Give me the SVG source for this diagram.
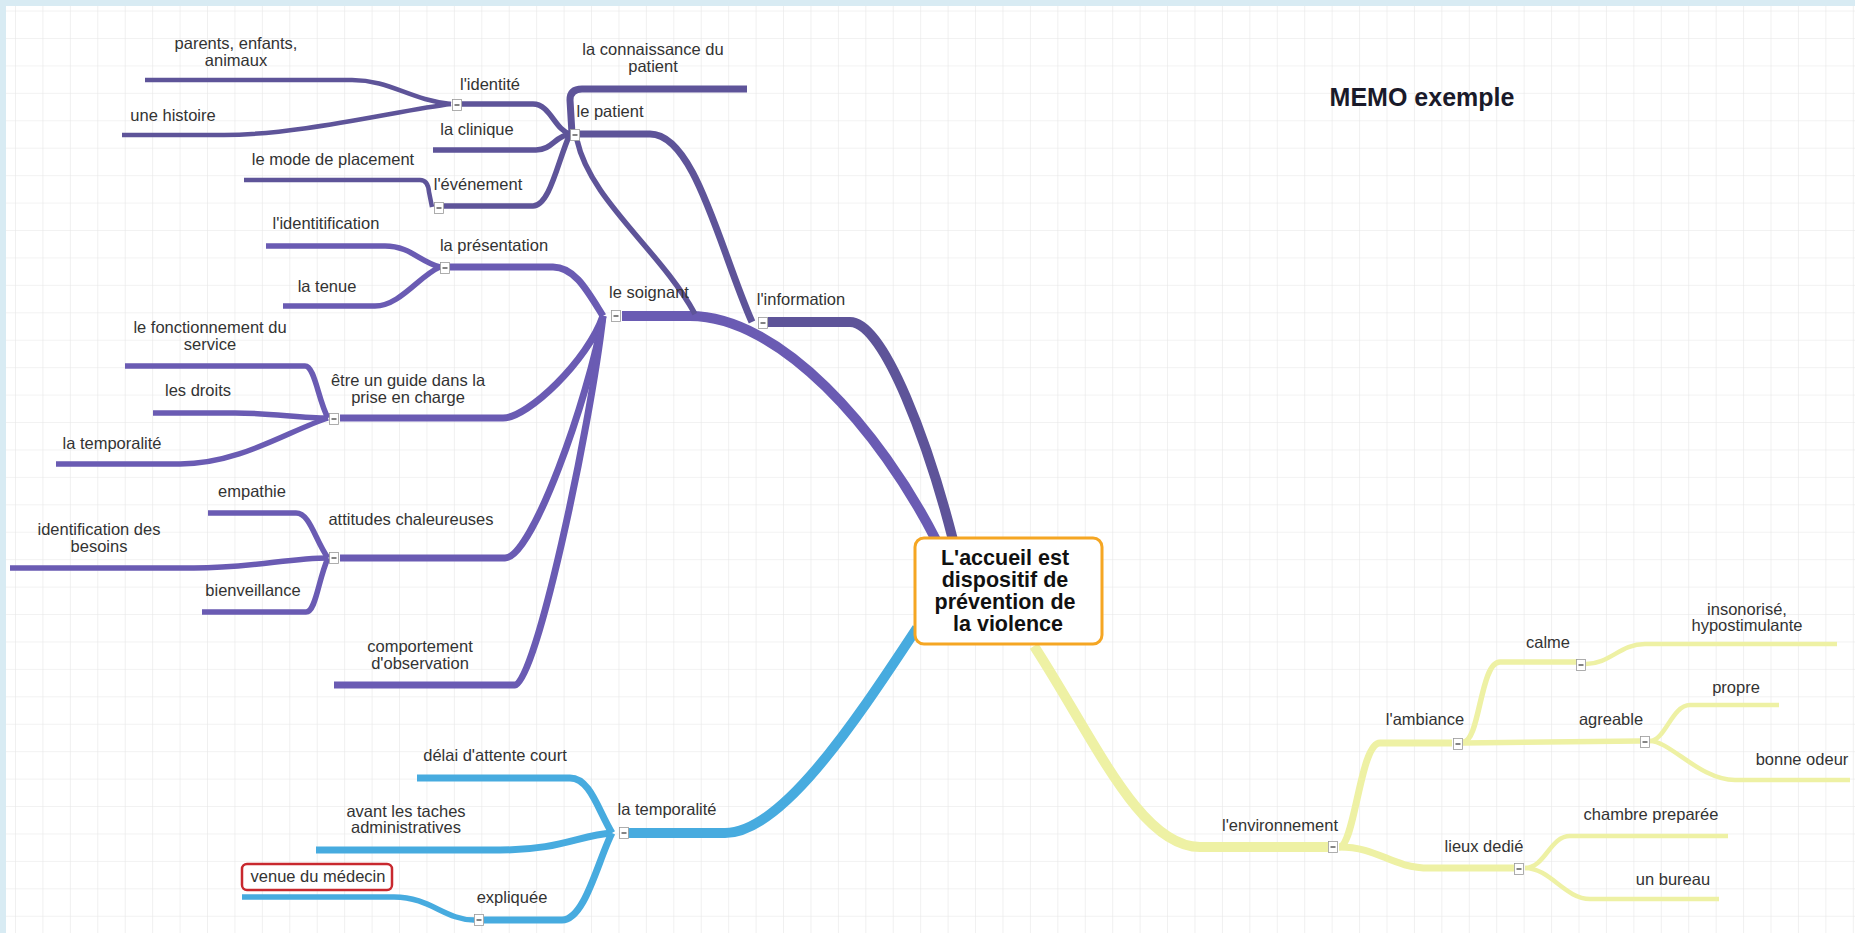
<svg xmlns="http://www.w3.org/2000/svg" width="1855" height="933" viewBox="0 0 1855 933">
<defs>
<pattern id="grid" x="15" y="38" width="27.43" height="27.43" patternUnits="userSpaceOnUse">
<path d="M0 0 V27.43 M0 0 H27.43" fill="none" stroke="#e6e6e6" stroke-width="1.2"/>
</pattern>
<style>
.c{fill:none;stroke-linecap:butt;stroke-linejoin:round}
.w1{stroke-width:10}.w2{stroke-width:7}.w3{stroke-width:5.5}.w4{stroke-width:4.5}
.pu{stroke:#6a5bb3}.dp{stroke:#5e5499}.bl{stroke:#47abdf}.ye{stroke:#eef1a4}
.t{font-family:"Liberation Sans",Arial,sans-serif;font-size:16.5px;fill:#333;text-anchor:middle}
.tg rect{fill:#fff;stroke:#9a9a9a;stroke-width:0.8}
.tg path{stroke:#333;stroke-width:1.2}
</style>
</defs>
<rect width="1855" height="933" fill="#d8ebf3"/>
<rect x="6" y="6" width="1849" height="927" fill="#ffffff"/>
<rect x="6" y="6" width="1849" height="927" fill="url(#grid)"/>

<g id="connectors">
<!-- purple: soignant branch -->
<path class="c w1 pu" d="M622 316 L690 316 C780 316 880 430 936 540"/>
<path class="c w2 pu" d="M450 267 L553 267 C575 267 588 292 603 316"/>
<path class="c w2 pu" d="M340 418 L503 418 C528 418 588 360 603 316"/>
<path class="c w2 pu" d="M340 558 L505 558 C532 558 588 400 603 316"/>
<path class="c w2 pu" d="M334 685 L515 685 C535 685 590 430 603 316"/>
<path class="c w3 pu" d="M266 246 L385 246 C410 246 420 262 440 267"/>
<path class="c w3 pu" d="M283 306 L375 306 C400 306 420 275 440 267"/>
<path class="c w3 pu" d="M125 366 L305 366 C315 366 318 400 328 418"/>
<path class="c w3 pu" d="M153 413 L235 413 C270 413 300 418 328 418"/>
<path class="c w3 pu" d="M56 464 L180 464 C240 464 290 430 328 418"/>
<path class="c w3 pu" d="M208 513 L296 513 C310 513 315 540 328 558"/>
<path class="c w3 pu" d="M10 568 L194 568 C250 568 290 558 328 558"/>
<path class="c w3 pu" d="M202 612 L306 612 C316 612 318 580 328 558"/>
<!-- dark purple: information branch -->
<path class="c w1 dp" d="M768 322 L850 322 C885 322 930 450 953 540"/>
<path class="c w2 dp" d="M580 134 L650 134 C695 134 720 250 752 322"/>
<path class="c w3 dp" d="M577 140 C590 200 660 250 695 314"/>
<path class="c w2 dp" d="M572 134 L570 100 Q570 89 582 89 L747 89"/>
<path class="c w3 dp" d="M462 104 L533 104 C550 104 555 130 570 134"/>
<path class="c w3 dp" d="M433 150 L536 150 C552 150 555 136 570 134"/>
<path class="c w3 dp" d="M444 206 L533 206 C550 206 558 160 570 134"/>
<path class="c w4 dp" d="M145 80 L352 80 C390 80 410 100 451 104"/>
<path class="c w4 dp" d="M122 135 L224 135 C300 135 400 110 451 104"/>
<path class="c w4 dp" d="M244 180 L420 180 Q428 180 429 192 L432 207"/>
<!-- blue: temporalite branch -->
<path class="c w1 bl" d="M628 833 L725 833 C780 833 850 730 917 628"/>
<path class="c w2 bl" d="M417 778 L570 778 C590 778 598 810 612 833"/>
<path class="c w2 bl" d="M316 850 L500 850 C560 850 580 835 612 833"/>
<path class="c w2 bl" d="M484 920 L562 920 C585 920 598 860 612 833"/>
<path class="c w3 bl" d="M242 897 L394 897 C430 897 445 920 474 920"/>
<!-- yellow: environnement branch -->
<path class="c w1 ye" d="M1328 847 L1200 847 C1140 847 1095 740 1034 646"/>
<path class="c w2 ye" d="M1339 847 C1355 847 1360 743 1380 743 L1452 743"/>
<path class="c w2 ye" d="M1339 847 C1380 847 1390 868 1430 868 L1514 868"/>
<path class="c w3 ye" d="M1463 742 C1480 742 1480 662 1500 662 L1578 662"/>
<path class="c w3 ye" d="M1463 743 L1640 741"/>
<path class="c w4 ye" d="M1650 741 C1665 741 1672 705 1690 705 L1779 705"/>
<path class="c w4 ye" d="M1650 741 C1670 741 1700 780 1735 780 L1850 780"/>
<path class="c w4 ye" d="M1586 664 C1610 664 1620 644 1645 644 L1837 644"/>
<path class="c w4 ye" d="M1525 868 C1545 868 1550 836 1570 836 L1728 836"/>
<path class="c w4 ye" d="M1525 868 C1550 868 1565 899 1590 899 L1719 899"/>
</g>

<g id="node-center">
<rect x="915" y="538" width="187" height="106" rx="9" fill="#fff" stroke="#f5a623" stroke-width="3"/>
<text font-family="Liberation Sans,Arial,sans-serif" font-weight="bold" font-size="21.5" fill="#111" text-anchor="middle">
<tspan x="1008" y="565">L'accueil est</tspan>
<tspan x="1008" y="587">dispositif de</tspan>
<tspan x="1008" y="609">prévention de</tspan>
<tspan x="1008" y="631">la violence</tspan>
</text>
</g>

<g id="node-memo"><text x="1422" y="106" font-family="Liberation Sans,Arial,sans-serif" font-weight="bold" font-size="25" fill="#1a1a2a" text-anchor="middle">MEMO exemple</text></g>

<g id="node-soignant"><text class="t" x="649" y="298">le soignant</text><g class="tg"><rect x="611.5" y="310.5" width="9" height="11"/><path d="M613.5 316 H618.5"/></g></g>
<g id="node-information"><text class="t" x="801" y="305">l'information</text><g class="tg"><rect x="758.5" y="317.5" width="9" height="11"/><path d="M760.5 323 H765.5"/></g></g>
<g id="node-patient"><text class="t" x="610" y="117">le patient</text><g class="tg"><rect x="570.5" y="129.5" width="9" height="11"/><path d="M572.5 135 H577.5"/></g></g>
<g id="node-connaissance"><text class="t" x="653"><tspan x="653" y="55">la connaissance du</tspan><tspan x="653" y="72">patient</tspan></text></g>
<g id="node-identite"><text class="t" x="490" y="90">l'identité</text><g class="tg"><rect x="452.5" y="99.5" width="9" height="11"/><path d="M454.5 105 H459.5"/></g></g>
<g id="node-parents"><text class="t"><tspan x="236" y="49">parents, enfants,</tspan><tspan x="236" y="66">animaux</tspan></text></g>
<g id="node-histoire"><text class="t" x="173" y="121">une histoire</text></g>
<g id="node-clinique"><text class="t" x="477" y="135">la clinique</text></g>
<g id="node-evenement"><text class="t" x="478" y="190">l'événement</text><g class="tg"><rect x="434.5" y="202.5" width="9" height="11"/><path d="M436.5 208 H441.5"/></g></g>
<g id="node-placement"><text class="t" x="333" y="165">le mode de placement</text></g>
<g id="node-presentation"><text class="t" x="494" y="251">la présentation</text><g class="tg"><rect x="440.5" y="262.5" width="9" height="11"/><path d="M442.5 268 H447.5"/></g></g>
<g id="node-identification1"><text class="t" x="326" y="229">l'identitification</text></g>
<g id="node-tenue"><text class="t" x="327" y="292">la tenue</text></g>
<g id="node-guide"><text class="t"><tspan x="408" y="386">être un guide dans la</tspan><tspan x="408" y="403">prise en charge</tspan></text><g class="tg"><rect x="329.5" y="413.5" width="9" height="11"/><path d="M331.5 419 H336.5"/></g></g>
<g id="node-fonctionnement"><text class="t"><tspan x="210" y="333">le fonctionnement du</tspan><tspan x="210" y="350">service</tspan></text></g>
<g id="node-droits"><text class="t" x="198" y="396">les droits</text></g>
<g id="node-temporalite1"><text class="t" x="112" y="449">la temporalité</text></g>
<g id="node-attitudes"><text class="t" x="411" y="525">attitudes chaleureuses</text><g class="tg"><rect x="329.5" y="552.5" width="9" height="11"/><path d="M331.5 558 H336.5"/></g></g>
<g id="node-empathie"><text class="t" x="252" y="497">empathie</text></g>
<g id="node-besoins"><text class="t"><tspan x="99" y="535">identification des</tspan><tspan x="99" y="552">besoins</tspan></text></g>
<g id="node-bienveillance"><text class="t" x="253" y="596">bienveillance</text></g>
<g id="node-comportement"><text class="t"><tspan x="420" y="652">comportement</tspan><tspan x="420" y="669">d'observation</tspan></text></g>

<g id="node-temporalite2"><text class="t" x="667" y="815">la temporalité</text><g class="tg"><rect x="619.5" y="827.5" width="9" height="11"/><path d="M621.5 833 H626.5"/></g></g>
<g id="node-delai"><text class="t" x="495" y="761">délai d'attente court</text></g>
<g id="node-avant"><text class="t"><tspan x="406" y="817">avant les taches</tspan><tspan x="406" y="833">administratives</tspan></text></g>
<g id="node-expliquee"><text class="t" x="512" y="903">expliquée</text><g class="tg"><rect x="474.5" y="914.5" width="9" height="11"/><path d="M476.5 920 H481.5"/></g></g>
<g id="node-venue"><rect x="242" y="864" width="150" height="26" rx="5" fill="#fff" stroke="#c8282e" stroke-width="2.5"/><text class="t" x="318" y="882">venue du médecin</text></g>

<g id="node-environnement"><text class="t" x="1280" y="831">l'environnement</text><g class="tg"><rect x="1328.5" y="841.5" width="9" height="11"/><path d="M1330.5 847 H1335.5"/></g></g>
<g id="node-ambiance"><text class="t" x="1425" y="725">l'ambiance</text><g class="tg"><rect x="1453.5" y="738.5" width="9" height="11"/><path d="M1455.5 744 H1460.5"/></g></g>
<g id="node-calme"><text class="t" x="1548" y="648">calme</text><g class="tg"><rect x="1576.5" y="659.5" width="9" height="11"/><path d="M1578.5 665 H1583.5"/></g></g>
<g id="node-insonorise"><text class="t"><tspan x="1747" y="615">insonorisé,</tspan><tspan x="1747" y="631">hypostimulante</tspan></text></g>
<g id="node-agreable"><text class="t" x="1611" y="725">agreable</text><g class="tg"><rect x="1640.5" y="736.5" width="9" height="11"/><path d="M1642.5 742 H1647.5"/></g></g>
<g id="node-propre"><text class="t" x="1736" y="693">propre</text></g>
<g id="node-odeur"><text class="t" x="1802" y="765">bonne odeur</text></g>
<g id="node-lieux"><text class="t" x="1484" y="852">lieux dedié</text><g class="tg"><rect x="1514.5" y="863.5" width="9" height="11"/><path d="M1516.5 869 H1521.5"/></g></g>
<g id="node-chambre"><text class="t" x="1651" y="820">chambre preparée</text></g>
<g id="node-bureau"><text class="t" x="1673" y="885">un bureau</text></g>
</svg>
